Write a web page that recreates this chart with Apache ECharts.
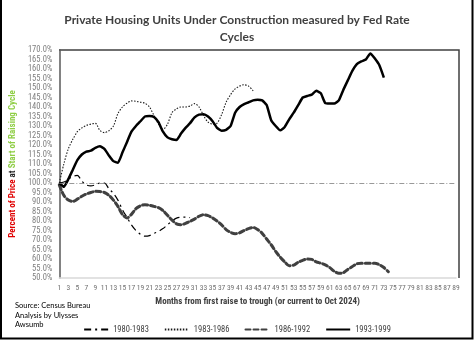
<!DOCTYPE html>
<html>
<head>
<meta charset="utf-8">
<script src="https://cdn.jsdelivr.net/npm/echarts@6/dist/echarts.min.js"></script>
<style>
  html, body { margin: 0; padding: 0; background: #fff; }
  #chart { width: 474px; height: 340px; }
</style>
</head>
<body>
<div id="chart"></div>
<script>
// Months since the first rate raise (1..89)
const months = Array.from({ length: 89 }, (_, i) => String(i + 1));

// Housing units under construction, % of the level at the start of each raising cycle
const cycle1980 = [100, 100.5, 102, 103.5, 104, 101, 99, 98.5, 99, 100, 100, 97, 94.5, 91,
  86, 82, 78, 75, 73, 72, 72.3, 73.5, 74.5, 76, 78, 80, 81.5, 82, 82, 81.8];

const cycle1983 = [100, 110, 118, 123, 127, 129, 130.3, 131, 131.4, 127.7, 126.5, 127.5, 130,
  136.5, 140, 142, 143.2, 143, 142.5, 142, 140, 135.5, 131, 128.2, 131, 137, 139, 140, 140,
  140.5, 141.8, 140, 135.5, 132, 131, 131.5, 136, 142.5, 146.5, 149.5, 151, 151.7, 151, 148.5];

const cycle1986 = [99, 93.5, 91, 90.3, 91.5, 93, 94.2, 95, 95.6, 95.5, 95, 93.5, 91, 87.7,
  83.5, 81.6, 83.5, 86.5, 88, 88.6, 88.3, 87.7, 87, 85.5, 83, 80.5, 78.5, 78, 78.8, 79.8,
  81, 82.5, 83.3, 82.8, 81.6, 80, 78, 75.5, 74, 73.3, 73.8, 75, 76, 76.6, 75.5, 73.5, 70.5,
  67.5, 64, 61, 58.5, 56.5, 56.8, 58.3, 59.3, 60, 59.8, 58.5, 57.8, 56.9, 55.5, 53.5, 52.5,
  52.8, 54.5, 56, 57.5, 57.8, 57.8, 57.8, 57.8, 57, 55.5, 53.3];

const cycle1993 = [100, 98, 102, 107, 112, 115, 116.5, 117, 118.5, 119.3, 118, 114.5, 111.5,
  110.6, 116, 121.5, 127, 130, 132.5, 135, 135.2, 134.7, 132, 127, 124, 123, 122.6, 126, 129,
  131.5, 134.5, 136, 136.2, 135, 132.5, 129, 127.5, 128, 130, 137, 140, 141.5, 142.5, 143.5,
  143.8, 143.5, 141, 133, 130, 127.7, 129.5, 133.5, 137, 141, 145, 145.8, 146.5, 148.5, 147.3,
  142, 141.8, 141.8, 143.5, 149, 154, 159, 162.6, 164, 165, 168.2, 165.5, 162, 155.5];

const seriesNames = ['1980-1983', '1983-1986', '1986-1992', '1993-1999'];
const baseline = 100;

const cond = "'Roboto Condensed', 'DejaVu Sans Condensed', sans-serif";
const body = "Lato, 'Noto Sans', sans-serif";

const chart = echarts.init(document.getElementById('chart'), null, { renderer: 'canvas' });

// plot frame
const G = { left: 59, top: 50, width: 397, height: 228 };
const frameRight = 459;

chart.setOption({
  animation: false,
  backgroundColor: '#ffffff',
  title: {
    text: 'Private Housing Units Under Construction measured by Fed Rate\nCycles',
    left: 'center',
    top: 7,
    textStyle: {
      fontFamily: body,
      fontSize: 12,
      fontWeight: 'bold',
      color: '#404040',
      lineHeight: 17
    }
  },
  grid: { left: G.left, top: G.top, width: G.width, height: G.height },
  xAxis: {
    type: 'category',
    data: months,
    boundaryGap: false,
    name: 'Months from first raise to trough (or current to Oct 2024)',
    nameLocation: 'middle',
    nameGap: 19,
    nameTextStyle: { fontFamily: cond, fontSize: 9, fontWeight: 'bold', color: '#404040' },
    axisLine: { show: true, lineStyle: { color: '#d9d9d9', width: 1.5 } },
    axisTick: { show: false },
    axisLabel: {
      interval: 1,
      fontFamily: cond,
      fontSize: 7.5,
      color: '#6f6f6f',
      margin: 6
    },
    splitLine: { show: false }
  },
  yAxis: {
    type: 'value',
    min: 50,
    max: 170,
    interval: 5,
    name: '{r|Percent of Price} {k|at} {g|Start of Raising Cycle}',
    nameLocation: 'middle',
    nameRotate: 90,
    nameGap: 38,
    nameTextStyle: {
      fontFamily: cond,
      fontSize: 9,
      fontWeight: 'bold',
      rich: {
        r: { color: '#e00000', fontFamily: cond, fontSize: 9, fontWeight: 'bold' },
        k: { color: '#262626', fontFamily: cond, fontSize: 9, fontWeight: 'bold' },
        g: { color: '#8fce45', fontFamily: cond, fontSize: 9, fontWeight: 'bold' }
      }
    },
    axisLine: { show: true, lineStyle: { color: '#595959', width: 1.5 } },
    axisTick: { show: false },
    axisLabel: {
      fontFamily: cond,
      fontSize: 8.5,
      color: '#7f7f7f',
      margin: 7,
      formatter: v => v.toFixed(1) + '%'
    },
    splitLine: { show: false }
  },
  legend: {
    data: seriesNames,
    left: 'center',
    top: 320,
    itemWidth: 24,
    itemHeight: 8,
    itemGap: 15,
    itemStyle: { opacity: 0 },
    textStyle: { fontFamily: cond, fontSize: 8.5, color: '#404040' }
  },
  series: [
    {
      name: seriesNames[0],
      type: 'line',
      data: cycle1980,
      symbol: 'none',
      smooth: 0.3,
      lineStyle: { color: '#000000', width: 1.2, type: [7, 4, 2, 4] },
      itemStyle: { color: '#000000' }
    },
    {
      name: seriesNames[1],
      type: 'line',
      data: cycle1983,
      symbol: 'none',
      smooth: 0.3,
      lineStyle: { color: '#1a1a1a', width: 1.1, type: [1.5, 1.5] },
      itemStyle: { color: '#1a1a1a' }
    },
    {
      name: seriesNames[2],
      type: 'line',
      data: cycle1986,
      symbol: 'none',
      smooth: 0.3,
      lineStyle: { color: '#404040', width: 3, type: [5, 3], cap: 'round' },
      itemStyle: { color: '#404040' }
    },
    {
      name: seriesNames[3],
      type: 'line',
      data: cycle1993,
      symbol: 'none',
      smooth: 0.15,
      lineStyle: { color: '#000000', width: 2.5 },
      itemStyle: { color: '#000000' },
      markLine: {
        silent: true,
        symbol: 'none',
        label: { show: false },
        lineStyle: { color: '#7f7f7f', width: 0.8, type: [5, 2, 1, 2] },
        data: [{ yAxis: baseline }]
      }
    }
  ],
  graphic: [
    // plot frame: top and right edges
    {
      type: 'polyline',
      silent: true,
      shape: { points: [[G.left, G.top], [frameRight, G.top], [frameRight, G.top + G.height]] },
      style: { stroke: '#404040', lineWidth: 1.5, fill: null }
    },
    // outer border of the figure
    {
      type: 'polyline',
      silent: true,
      shape: { points: [[1, 0], [1, 338.5], [472.5, 338.5], [472.5, 0]] },
      style: { stroke: '#000000', lineWidth: 2, fill: null }
    },
    {
      type: 'text',
      left: 15,
      top: 301,
      style: {
        text: 'Source: Census Bureau\nAnalysis by Ulysses\nAwsumb',
        fontFamily: body,
        fontSize: 7.5,
        lineHeight: 9.5,
        fill: '#000000'
      }
    }
  ]
});
</script>
</body>
</html>
